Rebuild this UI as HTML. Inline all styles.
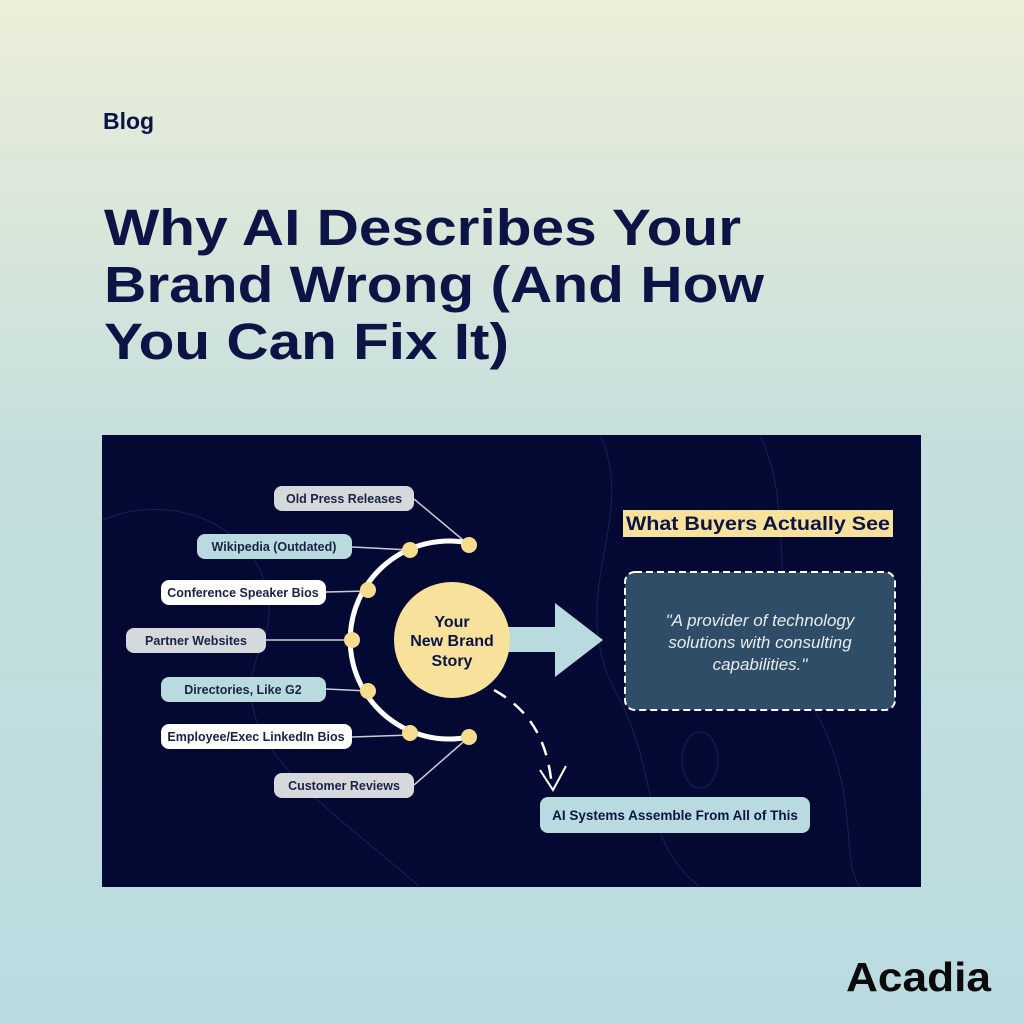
<!DOCTYPE html>
<html><head><meta charset="utf-8"><style>
html,body{margin:0;padding:0;width:1024px;height:1024px;overflow:hidden}
svg{display:block}
text{font-family:"Liberation Sans",sans-serif}
</style></head><body>
<svg width="1024" height="1024" viewBox="0 0 1024 1024" xmlns="http://www.w3.org/2000/svg">
<defs>
<linearGradient id="bg" x1="0" y1="0" x2="0" y2="1">
<stop offset="0" stop-color="#eceed8"/>
<stop offset="0.45" stop-color="#c4dedd"/>
<stop offset="1" stop-color="#bbdbe1"/>
</linearGradient>
</defs>
<rect width="1024" height="1024" fill="url(#bg)"/>
<text x="103" y="129" font-size="23" font-weight="bold" fill="#0b1445">Blog</text>
<g font-size="51" font-weight="bold" fill="#0b1445">
<text x="104" y="245" textLength="637" lengthAdjust="spacingAndGlyphs">Why AI Describes Your</text>
<text x="104" y="302" textLength="660" lengthAdjust="spacingAndGlyphs">Brand Wrong (And How</text>
<text x="104" y="359" textLength="405" lengthAdjust="spacingAndGlyphs">You Can Fix It)</text>
</g>
<text x="846" y="991" font-size="41" font-weight="bold" fill="#0a0a0a" textLength="145" lengthAdjust="spacingAndGlyphs">Acadia</text>

<rect x="102" y="435" width="819" height="452" fill="#040933"/>
<g fill="none" stroke="#1a2050" stroke-width="1">
<path d="M102 520 C200 480 300 560 260 650 C220 740 320 800 420 887"/>
<path d="M600 435 C640 520 560 600 620 700 C660 780 640 840 700 887"/>
<path d="M760 435 C800 520 760 620 820 720 C860 800 840 860 860 887"/>
<ellipse cx="700" cy="760" rx="18" ry="28"/>
</g>

<!-- connectors -->
<g stroke="#c9ccd4" stroke-width="1.5" fill="none">
<line x1="414" y1="499" x2="469" y2="545"/>
<line x1="352" y1="547" x2="410" y2="550"/>
<line x1="326" y1="592" x2="368" y2="591"/>
<line x1="266" y1="640" x2="352" y2="640"/>
<line x1="326" y1="689" x2="368" y2="691"/>
<line x1="352" y1="737" x2="410" y2="735"/>
<line x1="414" y1="785" x2="469" y2="737"/>
</g>
<path d="M469 543 A99 99 0 1 0 469 737" fill="none" stroke="#ffffff" stroke-width="5"/>
<g fill="#f6dc8e">
<circle cx="469" cy="545" r="8"/><circle cx="410" cy="550" r="8"/>
<circle cx="368" cy="590" r="8"/><circle cx="352" cy="640" r="8"/>
<circle cx="368" cy="691" r="8"/><circle cx="410" cy="733" r="8"/>
<circle cx="469" cy="737" r="8"/>
</g>

<!-- pills -->
<g font-size="12.5" font-weight="bold" fill="#1a2245" text-anchor="middle">
<rect x="274" y="486" width="140" height="25" rx="8" fill="#d6d9dc"/><text x="344" y="503">Old Press Releases</text>
<rect x="197" y="534" width="155" height="25" rx="8" fill="#b9dbe0"/><text x="274" y="551">Wikipedia (Outdated)</text>
<rect x="161" y="580" width="165" height="25" rx="8" fill="#ffffff"/><text x="243" y="597">Conference Speaker Bios</text>
<rect x="126" y="628" width="140" height="25" rx="8" fill="#d6d9dc"/><text x="196" y="645">Partner Websites</text>
<rect x="161" y="677" width="165" height="25" rx="8" fill="#b9dbe0"/><text x="243" y="694">Directories, Like G2</text>
<rect x="161" y="724" width="191" height="25" rx="8" fill="#ffffff"/><text x="256" y="741">Employee/Exec LinkedIn Bios</text>
<rect x="274" y="773" width="140" height="25" rx="8" fill="#d6d9dc"/><text x="344" y="790">Customer Reviews</text>
</g>

<!-- arrow -->
<path d="M505 627 H555 V603 L603 640 L555 677 V652 H505 Z" fill="#b9dbe0"/>
<circle cx="452" cy="640" r="58" fill="#f8e19b"/>
<g font-size="16" font-weight="bold" fill="#0b1445" text-anchor="middle">
<text x="452" y="627">Your</text><text x="452" y="646">New Brand</text><text x="452" y="666">Story</text>
</g>

<!-- dashed curve -->
<path d="M494 690 C530 710 548 740 552 788" fill="none" stroke="#ffffff" stroke-width="2.5" stroke-dasharray="14 10"/>
<path d="M540 770 L553 790 L566 766" fill="none" stroke="#ffffff" stroke-width="2"/>

<rect x="540" y="797" width="270" height="36" rx="8" fill="#b9dbe0"/>
<text x="675" y="820" font-size="13.5" font-weight="bold" fill="#0b1445" text-anchor="middle">AI Systems Assemble From All of This</text>

<rect x="623" y="510" width="270" height="27" fill="#f8e19b"/>
<text x="758" y="530" font-size="19" font-weight="bold" fill="#0b1445" text-anchor="middle" textLength="264" lengthAdjust="spacingAndGlyphs">What Buyers Actually See</text>

<rect x="625" y="572" width="270" height="138" rx="10" fill="#2f4d66" stroke="#ffffff" stroke-width="2" stroke-dasharray="7 4"/>
<g font-size="17" font-style="italic" fill="#e6ecf0" text-anchor="middle">
<text x="760" y="626">"A provider of technology</text>
<text x="760" y="648">solutions with consulting</text>
<text x="760" y="670">capabilities."</text>
</g>
</svg>
</body></html>
